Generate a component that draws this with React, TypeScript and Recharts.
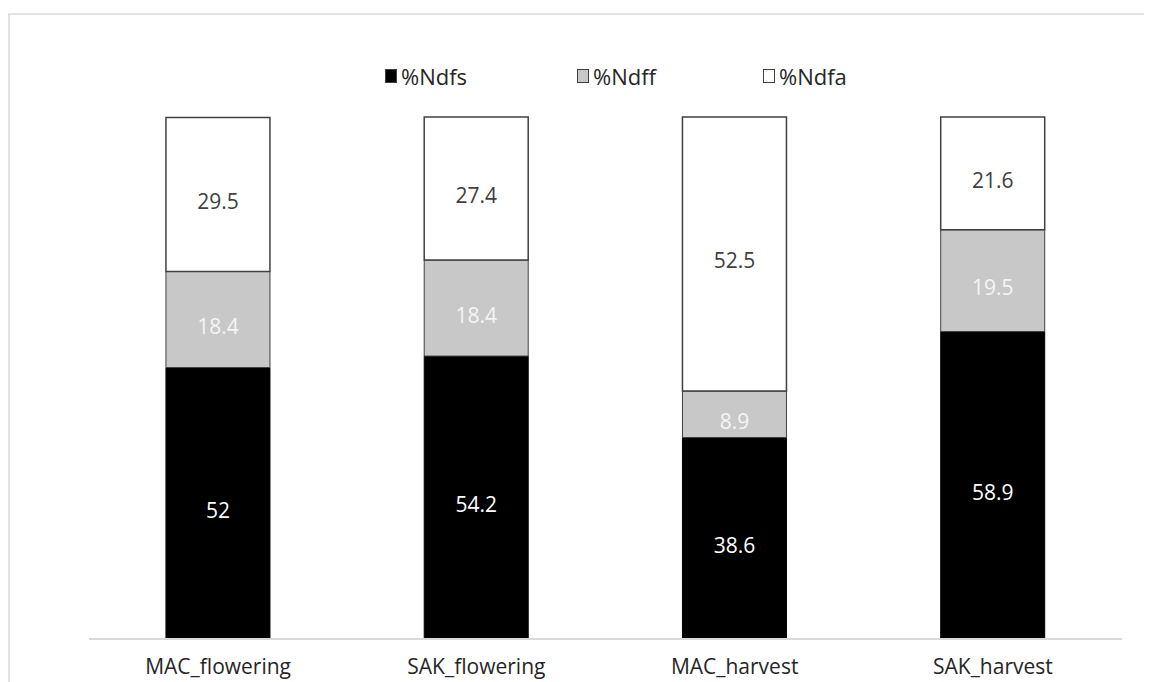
import React from "react";
import { BarChart, Bar, XAxis, YAxis, LabelList } from "recharts";

const categories = ["MAC_flowering", "SAK_flowering", "MAC_harvest", "SAK_harvest"];
const ndfs = [52, 54.2, 38.6, 58.9];
const ndff = [18.4, 18.4, 8.9, 19.5];
const ndfa = [29.5, 27.4, 52.5, 21.6];

const seriesNames = ["%Ndfs", "%Ndff", "%Ndfa"];
const seriesFill = ["#000000", "#c8c8c8", "#ffffff"];
const legendLeft = [377, 569, 755];

const data = categories.map((c, i) => ({
  name: c,
  ndfs: ndfs[i],
  ndff: ndff[i],
  ndfa: ndfa[i],
}));

const FONT = "'Open Sans', 'Liberation Sans', sans-serif";

export default function App() {
  return (
    <div style={{ position: "relative", width: 1144, height: 674 }}>
      <div
        style={{
          position: "absolute",
          left: 0,
          top: 5,
          width: 1142,
          height: 667,
          borderTop: "2px solid #e3e3e3",
          borderLeft: "2px solid #e3e3e3",
        }}
      />
      {seriesNames.map((n, i) => (
        <div
          key={n}
          style={{
            position: "absolute",
            left: legendLeft[i],
            top: 53,
            height: 30,
            display: "flex",
            alignItems: "center",
            fontFamily: FONT,
            fontSize: 22,
            color: "#262626",
            whiteSpace: "nowrap",
          }}
        >
          <span
            style={{
              display: "inline-block",
              width: 10,
              height: 12,
              background: seriesFill[i],
              border: "1px solid #404040",
              marginRight: 4,
            }}
          />
          <span>{n}</span>
        </div>
      ))}
      <BarChart
        width={1144}
        height={674}
        data={data}
        margin={{ top: 109, right: 30, left: 81, bottom: 13 }}
        barCategoryGap="29.8%"
        style={{ position: "absolute", left: 0, top: 0 }}
      >
        <XAxis
          dataKey="name"
          axisLine={{ stroke: "#d9d9d9", strokeWidth: 2 }}
          tickLine={false}
          tickMargin={14}
          height={30}
          tick={{ fill: "#262626", fontSize: 21, fontFamily: FONT }}
        />
        <YAxis hide domain={[0, 100]} />
        <Bar dataKey="ndfs" stackId="a" fill="#000000" stroke="#000000" strokeWidth={1} isAnimationActive={false}>
          <LabelList dataKey="ndfs" position="center" dy={7} fill="#ffffff" fontSize={21} fontFamily={FONT} />
        </Bar>
        <Bar dataKey="ndff" stackId="a" fill="#c8c8c8" stroke="#404040" strokeWidth={1} isAnimationActive={false}>
          <LabelList dataKey="ndff" position="center" dy={7} fill="#f5f5f5" fontSize={21} fontFamily={FONT} />
        </Bar>
        <Bar dataKey="ndfa" stackId="a" fill="#ffffff" stroke="#404040" strokeWidth={1.5} isAnimationActive={false}>
          <LabelList dataKey="ndfa" position="center" dy={7} fill="#404040" fontSize={21} fontFamily={FONT} />
        </Bar>
      </BarChart>
    </div>
  );
}
